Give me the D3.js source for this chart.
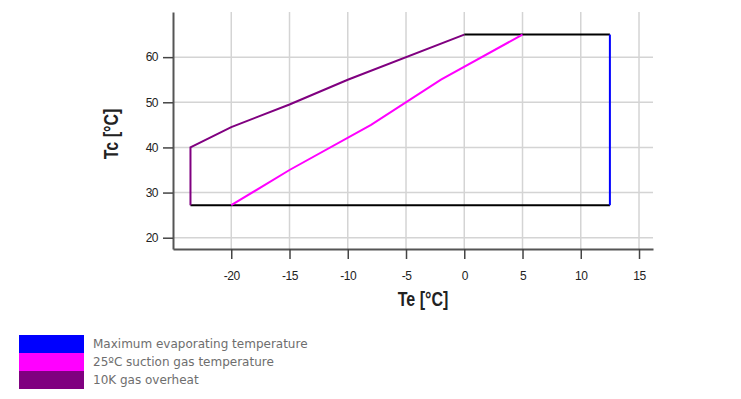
<!DOCTYPE html>
<html>
<head>
<meta charset="utf-8">
<script src="https://cdn.jsdelivr.net/npm/d3@7"></script>
<style>
  body { margin: 0; background: #fff; }
  svg { display: block; }
</style>
</head>
<body>
<div id="chart"></div>
<script>
// Compressor operating envelope, Te (evaporating) vs Tc (condensing)
const xTicks = [-20, -15, -10, -5, 0, 5, 10, 15];
const yTicks = [20, 30, 40, 50, 60];

const envelopeBottom = [[-23.5, 27.2], [12.5, 27.2]];
const envelopeTop = [[0, 65], [12.5, 65]];
const maxEvapLine = [[12.5, 27.2], [12.5, 65]];
const suctionGas25 = [[-20, 27.2], [-15, 35], [-8, 45], [-2, 55], [5, 65]];
const overheat10K = [[-23.5, 27.2], [-23.5, 40], [-20, 44.5], [-15, 49.5], [-10, 55], [0, 65]];

const legendLabels = ["Maximum evaporating temperature", "25ºC suction gas temperature", "10K gas overheat"];
const legendColors = ["#0000ff", "#ff00ff", "#800080"];

const W = 741, H = 399;
const svg = d3.select("#chart").append("svg")
    .attr("width", W)
    .attr("height", H);

const x = d3.scaleLinear().domain([-25, 16.2]).range([173, 653]);
const y = d3.scaleLinear().domain([17.5, 70]).range([249, 12]);

// grid
svg.append("g")
    .selectAll("line")
    .data(xTicks)
    .join("line")
    .attr("x1", d => x(d)).attr("x2", d => x(d))
    .attr("y1", y.range()[1]).attr("y2", y.range()[0])
    .attr("stroke", "#d4d4d4")
    .attr("stroke-width", 1.5);

svg.append("g")
    .selectAll("line")
    .data(yTicks)
    .join("line")
    .attr("x1", x.range()[0]).attr("x2", x.range()[1])
    .attr("y1", d => y(d)).attr("y2", d => y(d))
    .attr("stroke", "#d4d4d4")
    .attr("stroke-width", 1.5);

// axes (plain hyphen for negatives, like the original)
const fmt = d => String(d);

const xAxis = svg.append("g")
    .attr("transform", `translate(0,${y.range()[0]})`)
    .call(d3.axisBottom(x).tickValues(xTicks).tickFormat(fmt).tickSize(10).tickPadding(12).tickSizeOuter(0));

const yAxis = svg.append("g")
    .attr("transform", `translate(${x.range()[0]},0)`)
    .call(d3.axisLeft(y).tickValues(yTicks).tickFormat(fmt).tickSize(10).tickPadding(5).tickSizeOuter(0));

[xAxis, yAxis].forEach(a => {
    a.select(".domain").attr("stroke", "#555").attr("stroke-width", 2);
    a.selectAll(".tick line").attr("stroke", "#444").attr("stroke-width", 1.5);
    a.selectAll(".tick text")
        .attr("fill", "#222")
        .style("font-family", "'Liberation Sans', Arial, sans-serif")
        .style("font-size", "12px")
        .style("letter-spacing", "-0.5px");
});

// axis titles
svg.append("text")
    .attr("transform", "translate(423,306) scale(0.8,1)")
    .attr("text-anchor", "middle")
    .style("font-family", "'Liberation Sans', Arial, sans-serif")
    .style("font-weight", "bold")
    .style("font-size", "20px")
    .attr("fill", "#222")
    .text("Te [°C]");

svg.append("text")
    .attr("transform", "translate(118,134) rotate(-90) scale(0.8,1)")
    .attr("text-anchor", "middle")
    .style("font-family", "'Liberation Sans', Arial, sans-serif")
    .style("font-weight", "bold")
    .style("font-size", "20px")
    .attr("fill", "#222")
    .text("Tc [°C]");

// envelope lines
const line = d3.line()
    .x(d => x(d[0]))
    .y(d => y(d[1]));

const series = [
    { pts: envelopeBottom, color: "#000" },
    { pts: envelopeTop, color: "#000" },
    { pts: maxEvapLine, color: legendColors[0] },
    { pts: suctionGas25, color: legendColors[1] },
    { pts: overheat10K, color: legendColors[2] }
];

svg.append("g")
    .selectAll("path")
    .data(series)
    .join("path")
    .attr("d", d => line(d.pts))
    .attr("fill", "none")
    .attr("stroke", d => d.color)
    .attr("stroke-width", 2)
    .attr("stroke-linejoin", "miter");

// legend
const legend = svg.append("g");
legendLabels.forEach((label, i) => {
    legend.append("rect")
        .attr("x", 19)
        .attr("y", 335 + i * 18)
        .attr("width", 65)
        .attr("height", 18)
        .attr("fill", legendColors[i]);
    legend.append("text")
        .attr("x", 93)
        .attr("y", 344 + i * 18)
        .attr("dominant-baseline", "middle")
        .style("font-family", "'DejaVu Sans', Verdana, sans-serif")
        .style("font-size", "12px")
        .attr("fill", "#6e6e6e")
        .text(label);
});
</script>
</body>
</html>
